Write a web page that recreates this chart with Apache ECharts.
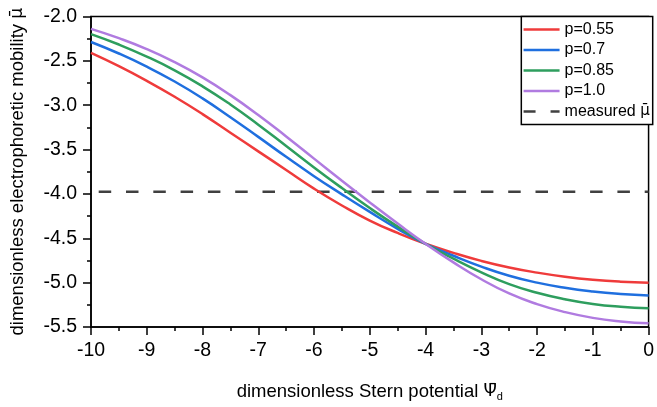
<!DOCTYPE html>
<html>
<head>
<meta charset="utf-8">
<script src="https://cdn.jsdelivr.net/npm/echarts@6/dist/echarts.min.js"></script>
<style>
  html, body { margin: 0; padding: 0; background: #fff; }
  #chart { width: 657px; height: 407px; }
</style>
</head>
<body>
<div id="chart"></div>
<script>
// Stern potential (dimensionless)
const psiD = [-10, -9.5, -9, -8.5, -8, -7.5, -7, -6.5, -6, -5.5, -5, -4.5, -4, -3.5, -3, -2.5, -2, -1.5, -1, -0.5, 0];

// Electrophoretic mobility for each p
const mobP055 = [-2.41, -2.56, -2.725, -2.905, -3.10, -3.31, -3.52, -3.73, -3.94, -4.13, -4.30, -4.44, -4.562, -4.665, -4.755, -4.829, -4.887, -4.933, -4.967, -4.989, -5.0];
const mobP07 = [-2.287, -2.417, -2.565, -2.733, -2.923, -3.135, -3.357, -3.582, -3.80, -4.005, -4.203, -4.393, -4.562, -4.697, -4.819, -4.922, -5.0, -5.058, -5.10, -5.128, -5.144];
const mobP085 = [-2.198, -2.316, -2.452, -2.607, -2.787, -2.992, -3.219, -3.459, -3.701, -3.934, -4.159, -4.369, -4.562, -4.73, -4.883, -5.016, -5.114, -5.187, -5.24, -5.272, -5.29];
const mobP10 = [-2.139, -2.244, -2.367, -2.514, -2.686, -2.886, -3.11, -3.352, -3.602, -3.852, -4.097, -4.334, -4.562, -4.772, -4.962, -5.122, -5.242, -5.332, -5.397, -5.437, -5.459];

// Measured mobility (horizontal reference)
const measuredMobility = -3.975;

const seriesNames = ['p=0.55', 'p=0.7', 'p=0.85', 'p=1.0', 'measured \u03BC\u0304'];
const seriesColors = ['#ef3b3b', '#1f6fdf', '#2e9e5e', '#b07be0', '#404040'];

const FONT = '"Liberation Sans", Arial, sans-serif';
const MARK_FONT = '"DejaVu Sans", sans-serif';

const zip = (xs, ys) => xs.map((x, i) => [x, ys[i]]);
const curves = [mobP055, mobP07, mobP085, mobP10];

const chart = echarts.init(document.getElementById('chart'), null, { renderer: 'canvas' });

const series = curves.map((ys, i) => ({
  name: seriesNames[i],
  type: 'line',
  data: zip(psiD, ys),
  smooth: 0.5,
  symbol: 'none',
  lineStyle: { color: seriesColors[i], width: 2.5 },
  itemStyle: { color: seriesColors[i] },
  z: 3 + i
}));

series.push({
  name: seriesNames[4],
  type: 'line',
  data: [[psiD[0], measuredMobility], [psiD[psiD.length - 1], measuredMobility]],
  symbol: 'none',
  lineStyle: { color: seriesColors[4], width: 2.5, type: [12.5, 14.8], dashOffset: 19.6 },
  itemStyle: { color: seriesColors[4] },
  z: 2
});

// Legend entries: solid samples for the curves, a two-dash sample for the reference line
const legendData = seriesNames.map((name, i) => ({
  name: name,
  lineStyle: i === 4
    ? { color: seriesColors[i], width: 2.5, type: [12, 15], dashOffset: 0 }
    : { color: seriesColors[i], width: 2.5, type: 'solid' }
}));

chart.setOption({
  animation: false,
  backgroundColor: '#fff',
  grid: {
    left: 88.3, right: 4.3, top: 16.5, bottom: 76,
    show: true, borderColor: '#000', borderWidth: 1.5, backgroundColor: 'transparent'
  },
  legend: {
    data: legendData,
    orient: 'vertical',
    right: 4.3,
    top: 16.5,
    itemWidth: 36,
    itemHeight: 14,
    itemGap: 4.5,
    padding: [5, 3, 5, 1],
    backgroundColor: '#fff',
    borderColor: '#000',
    borderWidth: 1.5,
    borderRadius: 0,
    itemStyle: { opacity: 0 },
    lineStyle: { width: 2.5 },
    formatter: name => name === seriesNames[4] ? 'measured {mu|\u03BC\u0304}' : name,
    textStyle: {
      fontFamily: FONT, fontSize: 16, color: '#000',
      rich: { mu: { fontFamily: MARK_FONT, fontSize: 15, color: '#000' } }
    },
    z: 10
  },
  xAxis: {
    type: 'value',
    min: -10, max: 0, interval: 1,
    name: 'dimensionless Stern potential {psi|\u03A8\u0304}{sub|d}',
    nameLocation: 'middle',
    nameGap: 54,
    nameTextStyle: {
      fontFamily: FONT, fontSize: 18.5, color: '#000',
      rich: {
        psi: { fontFamily: MARK_FONT, fontSize: 17, color: '#000' },
        sub: { fontFamily: FONT, fontSize: 11, color: '#000', padding: [10, 0, 0, 0] }
      }
    },
    axisLine: { show: true, lineStyle: { color: '#000', width: 1.5 } },
    axisTick: { show: true, inside: false, length: 8, lineStyle: { color: '#000', width: 1.5 } },
    minorTick: { show: true, splitNumber: 2, length: 4, lineStyle: { color: '#000', width: 1.5 } },
    splitLine: { show: false },
    axisLabel: { fontFamily: FONT, fontSize: 19.5, color: '#000', margin: 14 }
  },
  yAxis: {
    type: 'value',
    min: -5.5, max: -2.0, interval: 0.5,
    name: 'dimensionless electrophoretic mobility {mu|\u03BC\u0304}',
    nameLocation: 'middle',
    nameGap: 64,
    nameTextStyle: {
      fontFamily: FONT, fontSize: 18.5, color: '#000',
      rich: { mu: { fontFamily: MARK_FONT, fontSize: 17, color: '#000' } }
    },
    axisLine: { show: true, onZero: false, lineStyle: { color: '#000', width: 1.5 } },
    axisTick: { show: true, inside: false, length: 8, lineStyle: { color: '#000', width: 1.5 } },
    minorTick: { show: true, splitNumber: 2, length: 4, lineStyle: { color: '#000', width: 1.5 } },
    splitLine: { show: false },
    axisLabel: {
      fontFamily: FONT, fontSize: 19.5, color: '#000', margin: 14,
      formatter: v => v.toFixed(1)
    }
  },
  series: series
});
</script>
</body>
</html>
